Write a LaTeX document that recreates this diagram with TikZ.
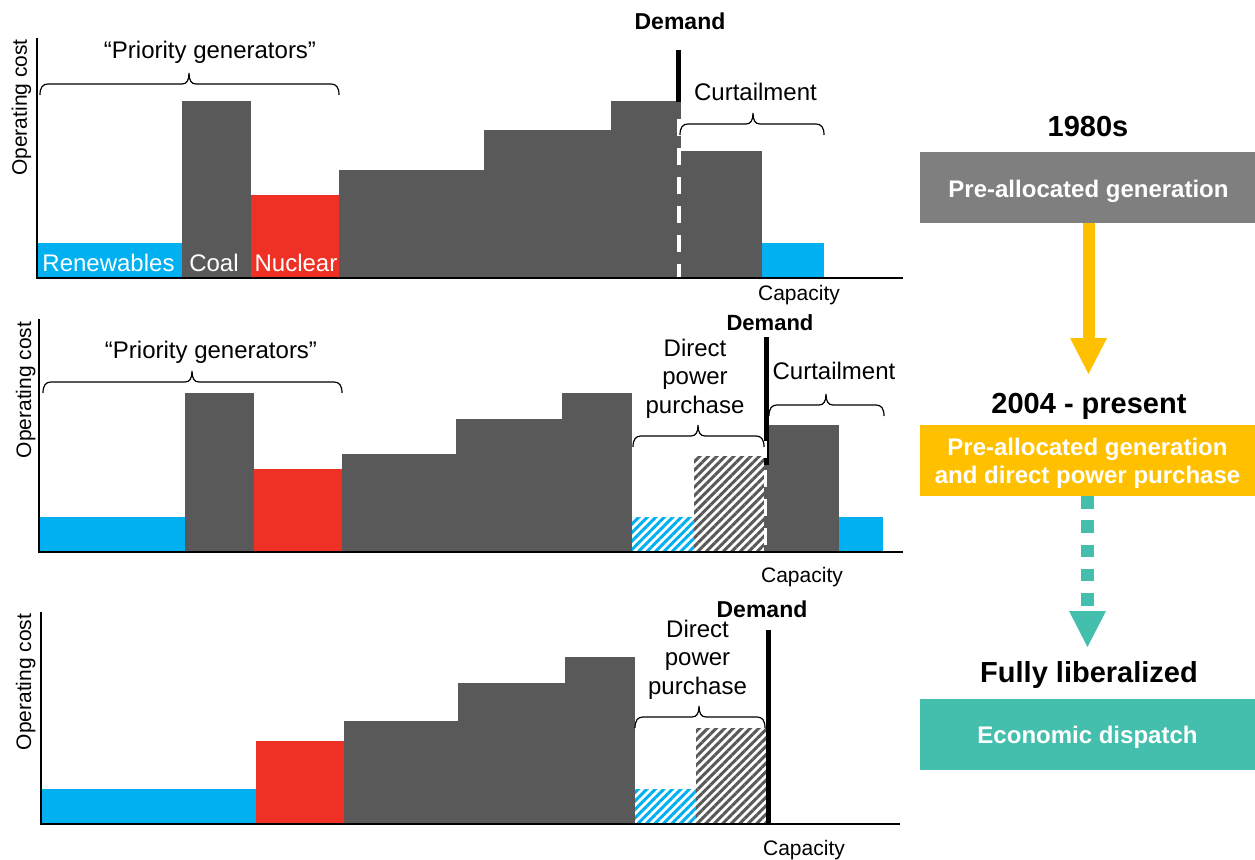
\documentclass[tikz,border=0pt]{standalone}
\usepackage{fontspec}
\setmainfont{Liberation Sans}
\usetikzlibrary{patterns.meta}
\definecolor{barg}{HTML}{595959}
\definecolor{renb}{HTML}{00B0F0}
\definecolor{nucr}{HTML}{EE3124}
\definecolor{boxg}{HTML}{7F7F7F}
\definecolor{yelc}{HTML}{FFC000}
\definecolor{tealc}{HTML}{45BFAD}
% curly brace: x1, x2, xtip, ybottom
\newcommand{\cbrace}[4]{%
  \draw[brc] (#1,#4) .. controls (#1,#4-8) and (#1+3,#4-11) .. (#1+8,#4-11)
    -- (#3-7,#4-11) .. controls (#3-2,#4-11) and (#3,#4-15) .. (#3,#4-22)
    .. controls (#3,#4-15) and (#3+2,#4-11) .. (#3+7,#4-11)
    -- (#2-8,#4-11) .. controls (#2-3,#4-11) and (#2,#4-8) .. (#2,#4);}
\begin{document}
\begin{tikzpicture}[x=1pt,y=-1pt,
  txt/.style={inner sep=0pt, font=\fontsize{24}{28.5}\selectfont, align=center},
  txts/.style={inner sep=0pt, font=\fontsize{21}{25}\selectfont},
  txtd/.style={inner sep=0pt, font=\fontsize{23}{27}\selectfont\bfseries},
  ttl/.style={inner sep=0pt, font=\fontsize{29}{34}\selectfont\bfseries},
  boxt/.style={inner sep=0pt, text=white, font=\fontsize{24}{28}\selectfont\bfseries, align=center},
  stage/.style={minimum width=335pt, minimum height=71pt, inner sep=0pt, outer sep=0pt},
  axisl/.style={line width=1.5pt},
  brc/.style={line width=1.2pt},
  hatchg/.style={pattern={Lines[angle=45,distance=6pt,line width=3pt]}, pattern color=barg},
  hatchb/.style={pattern={Lines[angle=45,distance=6pt,line width=3pt]}, pattern color=renb},
  demandl/.style={line width=5pt},
  dashw/.style={white, line width=4pt, dash pattern=on 17pt off 12pt}]
\useasboundingbox (0,0) rectangle (1255,859);

% ================= TOP CHART =================
\fill[renb] (37,243) rectangle (182,278);
\fill[barg] (182,101) rectangle (251,278);
\fill[nucr] (251,195) rectangle (339,278);
\fill[barg] (339,170) rectangle (484,278);
\fill[barg] (484,130) rectangle (611,278);
\fill[barg] (611,101) rectangle (680.5,278);
\fill[barg] (681,151) rectangle (762,278);
\fill[renb] (762,243) rectangle (824,278);
\draw[demandl] (678.5,50) -- (678.5,102);
\draw[dashw, dash phase=17pt] (678.7,107) -- (678.7,278);
\draw[axisl] (37,38) -- (37,278) -- (903,278);
\cbrace{40}{339}{189}{95}
\cbrace{680}{824}{753}{135}
\node[txt, anchor=base] (pri1) at (210,59) {“Priority generators”};
\node[txt, anchor=base, text=white] (ren1) at (108.5,271) {Renewables};
\node[txt, anchor=base, text=white] (coal1) at (214,271) {Coal};
\node[txt, anchor=base, text=white] (nuc1) at (296,271) {Nuclear};
\node[txtd, anchor=base] (dem1) at (680,30) {Demand};
\node[txt, anchor=base] (cur1) at (755.5,100) {Curtailment};
\node[txts, anchor=base] (cap1) at (799,300) {Capacity};
\node[txts, rotate=90, anchor=base] (oc1) at (27,107.5) {Operating cost};

% ================= MIDDLE CHART =================
\fill[renb] (39,517) rectangle (185,552);
\fill[barg] (185,393) rectangle (254,552);
\fill[nucr] (254,469) rectangle (342,552);
\fill[barg] (342,454) rectangle (456,552);
\fill[barg] (456,419) rectangle (562,552);
\fill[barg] (562,393) rectangle (632,552);
\path[hatchb] (632,517) rectangle (694,552);
\path[hatchg] (694,456) rectangle (764,552);
\fill[barg] (764,425) rectangle (839,552);
\fill[renb] (839,517) rectangle (883,552);
\draw[demandl] (766.5,337) -- (766.5,465);
\draw[dashw, line width=3pt] (765.5,441) -- (765.5,552);
\draw[axisl] (39,319) -- (39,552) -- (903,552);
\cbrace{43}{342}{192}{393}
\cbrace{633}{764}{698}{447}
\cbrace{769}{884}{826}{416}
\node[txt, anchor=base] (pri2) at (211,358) {“Priority generators”};
\node[txt] (dpp2) at (695,378.4) {Direct\\power\\purchase};
\node[txtd, font=\fontsize{22}{26}\selectfont\bfseries, anchor=base] (dem2) at (770,330) {Demand};
\node[txt, anchor=base] (cur2) at (834,379) {Curtailment};
\node[txts, anchor=base] (cap2) at (802,582) {Capacity};
\node[txts, rotate=90, anchor=base] (oc2) at (31,390) {Operating cost};

% ================= BOTTOM CHART =================
\fill[renb] (41,789) rectangle (256,824);
\fill[nucr] (256,741) rectangle (344,824);
\fill[barg] (344,721) rectangle (458,824);
\fill[barg] (458,683) rectangle (565,824);
\fill[barg] (565,657) rectangle (635,824);
\path[hatchb] (635,789) rectangle (696,824);
\path[hatchg] (696,728) rectangle (766,824);
\draw[demandl] (768,630) -- (768,824);
\draw[axisl] (41,612) -- (41,824) -- (900,824);
\cbrace{635}{765}{699}{728}
\node[txt] (dpp3) at (697.5,659.4) {Direct\\power\\purchase};
\node[txtd, anchor=base] (dem3) at (762,617) {Demand};
\node[txts, anchor=base] (cap3) at (804,855) {Capacity};
\node[txts, rotate=90, anchor=base] (oc3) at (31,682) {Operating cost};

% ================= RIGHT: STAGES =================
\node[ttl, anchor=base] (t1) at (1088,136) {1980s};
\node[stage, fill=boxg] (b1) at (1087.5,187.5) {};
\node[boxt, anchor=base] (b1t) at (1088.5,197) {Pre-allocated generation};

\node[ttl, anchor=base] (t2) at (1089,413) {2004 - present};
\node[stage, fill=yelc] (b2) at (1087.5,460.5) {};
\node[boxt] (b2t) at (1087.5,463.75) {Pre-allocated generation\\and direct power purchase};

\node[ttl, anchor=base] (t3) at (1089,682) {Fully liberalized};
\node[stage, fill=tealc] (b3) at (1087.5,734.5) {};
\node[boxt, anchor=base] (b3t) at (1087.5,743) {Economic dispatch};

% yellow arrow
\coordinate (a1) at (1089,338);
\draw[yelc, line width=12pt] (a1 |- b1.south) -- (a1);
\fill[yelc] (1070,338) -- (1107,338) -- (1088.5,374) -- cycle;

% teal dotted arrow
\coordinate (a2) at (1087.5,605.5);
\draw[tealc, line width=13pt, dash pattern=on 12.5pt off 11.75pt] (a2 |- b2.south) -- (a2);
\fill[tealc] (1069,611) -- (1106,611) -- (1087.5,647) -- cycle;
\end{tikzpicture}
\end{document}
